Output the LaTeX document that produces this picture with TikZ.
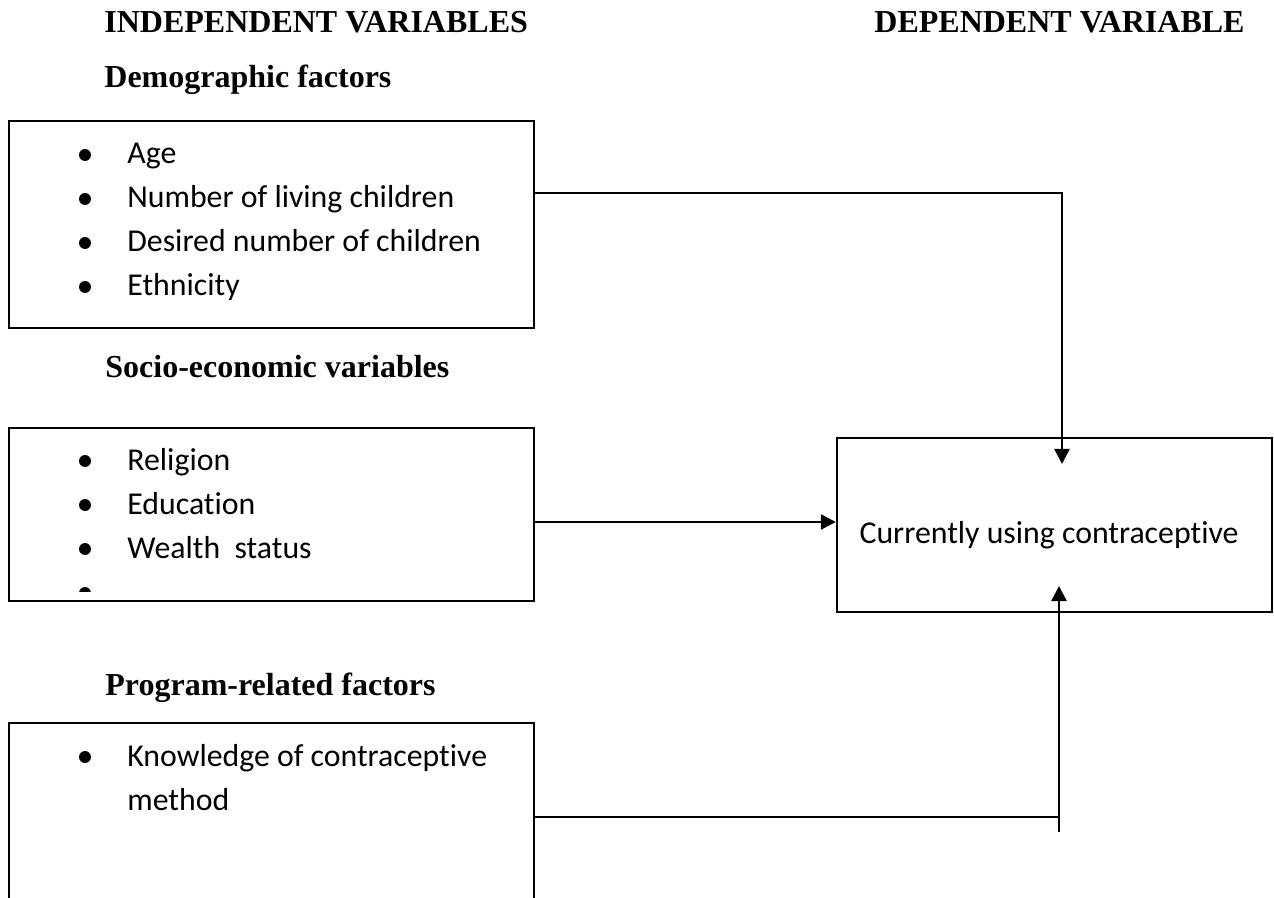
\documentclass[tikz,border=0pt]{standalone}
\usepackage{fontspec}
\setmainfont{Liberation Serif}
\newfontfamily\bodyfont[Ligatures=NoCommon]{Carlito}
\usetikzlibrary{arrows.meta}
\begin{document}
\begin{tikzpicture}[x=0.5pt,y=-0.5pt,
  box/.style={draw,line width=1.2pt,inner sep=0pt,rectangle,minimum width=262.5pt},
  head/.style={anchor=base west,inner sep=0pt,font=\fontsize{16}{19}\selectfont\bfseries},
  item/.style={anchor=base west,inner sep=0pt,font=\bodyfont\fontsize{15.9}{19}\selectfont},
  bul/.style={fill=black},
  conn/.style={line width=1.2pt},
  arr/.style={conn,-{Triangle[length=7.5pt,width=7.5pt]}}]
\useasboundingbox (0,0) rectangle (1274,898);
\begin{scope}
\clip (0,0) rectangle (1274,898);
% headings
\node[head] (hind) at (104,33) {INDEPENDENT VARIABLES};
\node[head] (hdep) at (874,33) {DEPENDENT VARIABLE};
\node[head] (hdemo) at (104,88) {Demographic factors};
\node[head] (hsoc) at (105,378) {Socio-economic variables};
\node[head] (hprog) at (105,695) {Program-related factors};
% boxes
\node[box,minimum height=103.5pt] (box1) at (271.5,224.5) {};
\node[box,minimum height=86.5pt] (box2) at (271.5,514.5) {};
\node[box,minimum height=103.5pt] (box3) at (271.5,826.5) {};
\node[box,minimum width=217.5pt,minimum height=87pt] (target) at (1054.5,525) {};
% box 1 items
\fill[bul] (85,155) circle (3pt);
\fill[bul] (85,199) circle (3pt);
\fill[bul] (85,243) circle (3pt);
\fill[bul] (85,287) circle (3pt);
\node[item] (i1) at (127,164) {Age};
\node[item] (i2) at (127,208) {Number of living children};
\node[item] (i3) at (127,252) {Desired number of children};
\node[item] (i4) at (127,296) {Ethnicity};
% box 2 items
\fill[bul] (85,461) circle (3pt);
\fill[bul] (85,505) circle (3pt);
\fill[bul] (85,549) circle (3pt);
\begin{scope}
\clip (70,580) rectangle (100,591);
\fill[bul] (85,593) circle (3pt);
\end{scope}
\node[item] (j1) at (127,470) {Religion};
\node[item] (j2) at (127,514) {Education};
\node[item] (j3) at (127,558) {Wealth\ \ status};
% box 3 items
\fill[bul] (85,757) circle (3pt);
\node[item] (k1) at (127,766) {Knowledge of contraceptive};
\node[item] (k2) at (127,810) {method};
% target text
\node[item,anchor=base] (tt) at (1049,543) {Currently using contraceptive};
% connectors
\coordinate (t1) at (1062,464);
\coordinate (t3) at (1059,586);
\coordinate (b1) at (1059,832);
\draw[arr] ([yshift=15.75pt]box1.east) -| (t1);
\draw[arr] ([yshift=-3.75pt]box2.east) coordinate (m1) -- (m1 -| target.west);
\draw[conn] ([yshift=4.75pt]box3.east) coordinate (h3) -- (h3 -| b1);
\draw[arr] (b1) -- (t3);
\end{scope}
\end{tikzpicture}
\end{document}
